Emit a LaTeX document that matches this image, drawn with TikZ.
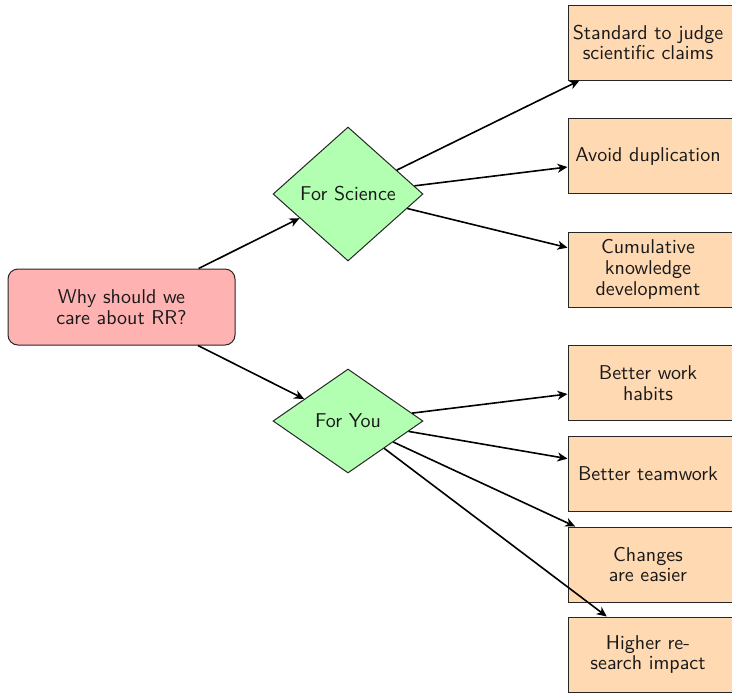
\documentclass[tikz,border=0pt]{standalone}
\usetikzlibrary{shapes.geometric,arrows.meta}
\newcommand\leaftext[1]{\parbox{80pt}{\centering #1}\hspace*{9pt}}
\begin{document}
\begin{tikzpicture}[x=0.5pt,y=-0.5pt,
  font=\sffamily\fontsize{10}{10.4}\selectfont,
  every node/.style={text=black!90},
  rootbox/.style={rectangle, rounded corners=5pt, draw=black!85, line width=0.5pt, fill=red!30, minimum width=113.5pt, minimum height=38pt, align=center},
  dia/.style={diamond, draw=black!85, line width=0.5pt, fill=green!30, inner sep=0pt, minimum width=75pt},
  leaf/.style={rectangle, draw=black!85, line width=0.5pt, fill=orange!30, minimum width=88pt, minimum height=37.5pt, inner sep=0pt},
  arr/.style={-{Stealth[length=5pt,width=4.5pt,inset=1.5pt]}, line width=0.8pt, black}]
\useasboundingbox (0,0) rectangle (732,692);
\node[rootbox] (root) at (121.5,307) {Why should we\\care about RR?};
\node[dia, minimum height=67pt] (sci) at (348,194) {For Science};
\node[dia, minimum height=52pt] (you) at (348,421) {For You};
\node[leaf] (b1) at (657,42.5) {\leaftext{Standard to judge\\scientific claims}};
\node[leaf] (b2) at (657,156) {\leaftext{Avoid duplication}};
\node[leaf] (b3) at (657,269.5) {\leaftext{Cumulative\\knowledge\\development}};
\node[leaf] (b4) at (657,383) {\leaftext{Better work\\habits}};
\node[leaf] (b5) at (657,474) {\leaftext{Better teamwork}};
\node[leaf] (b6) at (657,564.5) {\leaftext{Changes\\are easier}};
\node[leaf] (b7) at (657,654.5) {\leaftext{Higher re-\\search impact}};
\draw[arr] (root) -- (sci);
\draw[arr] (root) -- (you);
\draw[arr] (sci) -- (b1);
\draw[arr] (sci) -- (b2);
\draw[arr] (sci) -- (b3);
\draw[arr] (you) -- (b4);
\draw[arr] (you) -- (b5);
\draw[arr] (you) -- (b6);
\draw[arr] (you) -- (b7);
\end{tikzpicture}
\end{document}
